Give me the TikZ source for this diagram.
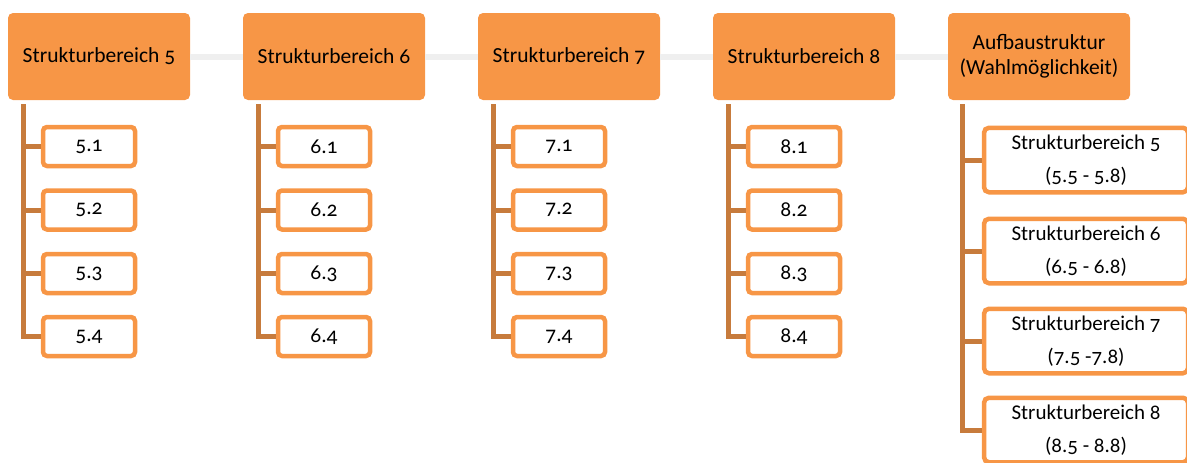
\documentclass[tikz,border=0pt]{standalone}
\usepackage{fontspec}
\setmainfont{Carlito}[Numbers=OldStyle]
\definecolor{topfill}{HTML}{F79646}
\definecolor{kidline}{HTML}{F79646}
\definecolor{branchc}{HTML}{C77B3C}
\definecolor{linkc}{HTML}{EFEFEF}
\tikzset{
  topbox/.style={fill=topfill,draw=none,rounded corners=5pt,minimum width=182pt,minimum height=87pt,inner sep=2pt,align=center,font=\fontsize{21.5}{25}\selectfont},
  kidbox/.style={draw=kidline,fill=white,line width=4.5pt,rounded corners=4pt,minimum width=92pt,minimum height=39pt,inner sep=1pt,font=\fontsize{21.5}{23}\selectfont},
  widebox/.style={draw=kidline,fill=white,line width=4.5pt,rounded corners=5pt,minimum width=204pt,minimum height=64.5pt,inner sep=1pt,align=center,font=\fontsize{21}{33}\selectfont},
  branch/.style={draw=branchc,line width=5pt},
  link/.style={draw=linkc,line width=6pt}
}
\begin{document}
\begin{tikzpicture}[x=1pt,y=-1pt]
\useasboundingbox (0,0) rectangle (1187,463);
\clip (0,0) rectangle (1187,463);
\node[topbox] (t1) at (99,56.5) {Strukturbereich 5};
\node[topbox] (t2) at (334,56.5) {Strukturbereich 6};
\node[topbox] (t3) at (569,56.5) {Strukturbereich 7};
\node[topbox] (t4) at (804,56.5) {Strukturbereich 8};
\node[topbox] (t5) at (1039,56.5) {Aufbaustruktur\\(Wahlmöglichkeit)};
\draw[link] (t1.east) -- (t2.west);
\draw[link] (t2.east) -- (t3.west);
\draw[link] (t3.east) -- (t4.west);
\draw[link] (t4.east) -- (t5.west);
\foreach \c/\x in {1/89,2/324,3/559,4/794}{
  \pgfmathtruncatemacro{\lab}{\c+4}
  \foreach \k/\y in {1/146.5,2/210,3/273.5,4/336.5}{
    \node[kidbox] (c\c\k) at (\x,\y) {\lab.\k};
  }
}
\foreach \c in {1,2,3,4}{
  \foreach \k in {1,2,3,4}{
    \draw[branch] ([xshift=16pt,yshift=-4pt]t\c.south west) |- (c\c\k.west);
  }
}
\node[widebox] (w1) at (1086,160) {Strukturbereich 5\\(5.5 - 5.8)};
\node[widebox] (w2) at (1086,251) {Strukturbereich 6\\(6.5 - 6.8)};
\node[widebox] (w3) at (1086,341) {Strukturbereich 7\\(7.5 -7.8)};
\node[widebox] (w4) at (1086,430) {Strukturbereich 8\\(8.5 - 8.8)};
\foreach \k in {1,2,3,4}{
  \draw[branch] ([xshift=15pt,yshift=-4pt]t5.south west) |- (w\k.west);
}
\end{tikzpicture}
\end{document}
